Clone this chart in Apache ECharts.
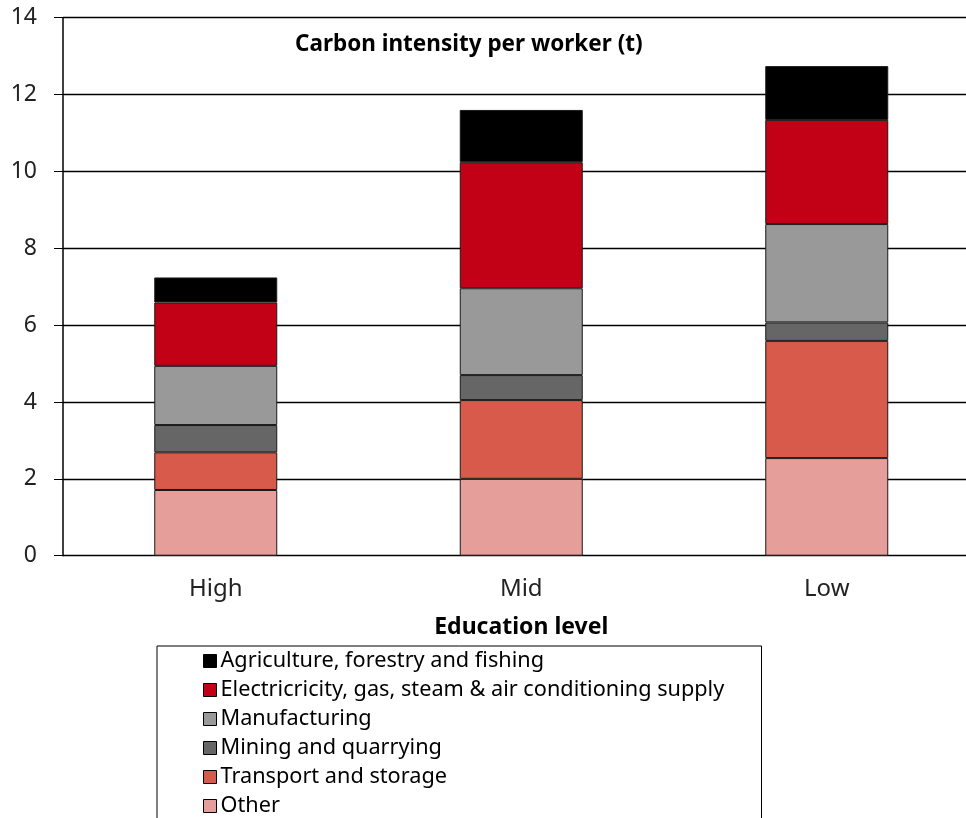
<!DOCTYPE html>
<html>
<head>
<meta charset="utf-8">
<script src="https://cdn.jsdelivr.net/npm/echarts@6/dist/echarts.min.js"></script>
<style>html,body{margin:0;padding:0;background:#fff}#c{width:966px;height:818px}</style>
</head>
<body>
<div id="c"></div>
<script>
const categories = ['High', 'Mid', 'Low'];
const other = [1.71, 2.00, 2.54];
const transport = [0.98, 2.05, 3.05];
const mining = [0.71, 0.65, 0.48];
const manufacturing = [1.54, 2.26, 2.56];
const electricity = [1.65, 3.28, 2.71];
const agriculture = [0.65, 1.36, 1.40];
const yTicks = [0, 2, 4, 6, 8, 10, 12, 14];

const names = {
  agri: 'Agriculture, forestry and fishing',
  elec: 'Electricricity, gas, steam & air conditioning supply',
  manu: 'Manufacturing',
  mini: 'Mining and quarrying',
  tran: 'Transport and storage',
  oth: 'Other'
};

const FONT = '"Noto Sans", "Open Sans", sans-serif';
const chart = echarts.init(document.getElementById('c'), null, {renderer: 'canvas'});

function s(name, data, color) {
  return {
    name: name, type: 'bar', stack: 'total', data: data, barWidth: 123,
    itemStyle: {color: color, borderColor: '#1a1a1a', borderWidth: 1},
    emphasis: {disabled: true}
  };
}

chart.setOption({
  animation: false,
  textStyle: {fontFamily: FONT},
  title: {
    text: 'Carbon intensity per worker (t)',
    left: 290, top: 28,
    textStyle: {fontFamily: FONT, fontSize: 22.5, fontWeight: 'bold', color: '#000'}
  },
  graphic: [{
    type: 'rect', left: 156.5, top: 645.5, z: 0,
    shape: {width: 604.5, height: 200},
    style: {fill: '#fff', stroke: '#000', lineWidth: 1}
  }],
  legend: {
    orient: 'vertical', left: 203, top: 649, padding: 0, itemGap: 5,
    itemWidth: 13, itemHeight: 13, z: 10,
    data: [names.agri, names.elec, names.manu, names.mini, names.tran, names.oth].map(n => ({name: n, icon: 'rect'})),
    itemStyle: {borderColor: '#000', borderWidth: 1},
    textStyle: {fontFamily: FONT, fontSize: 21.7, color: '#000', lineHeight: 24, padding: [0, 0, 0, -1]},
    selectedMode: false
  },
  grid: {left: 63, top: 17.7, width: 916.5, height: 538, outerBoundsMode: 'none', containLabel: false},
  xAxis: {
    type: 'category', data: categories,
    name: 'Education level', nameLocation: 'middle', nameGap: 60,
    nameTextStyle: {fontFamily: FONT, fontSize: 23, fontWeight: 'bold', color: '#000'},
    axisLine: {show: true, lineStyle: {color: '#000', width: 1}},
    axisTick: {show: false},
    axisLabel: {fontFamily: FONT, fontSize: 24, color: '#222', margin: 21}
  },
  yAxis: {
    type: 'value', min: yTicks[0], max: yTicks[yTicks.length - 1], interval: 2,
    axisLine: {show: true, lineStyle: {color: '#000', width: 1.5}},
    axisTick: {show: true, inside: false, length: 9, lineStyle: {color: '#000'}},
    axisLabel: {fontFamily: FONT, fontSize: 23, color: '#222', margin: 26},
    splitLine: {show: true, lineStyle: {color: '#000', width: 1.3}}
  },
  series: [
    s(names.oth, other, '#e59e99'),
    s(names.tran, transport, '#d75a4a'),
    s(names.mini, mining, '#666666'),
    s(names.manu, manufacturing, '#999999'),
    s(names.elec, electricity, '#c20016'),
    s(names.agri, agriculture, '#000000')
  ]
});
</script>
</body>
</html>
